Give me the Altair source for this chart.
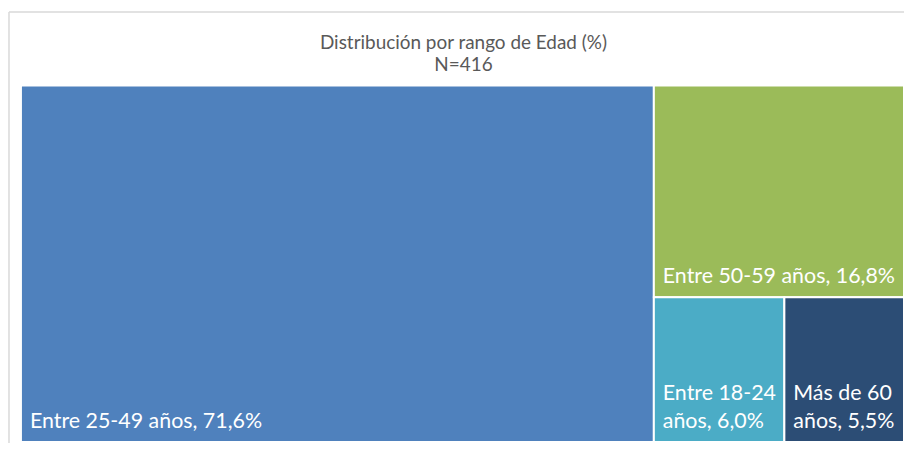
import altair as alt
import pandas as pd

# ---- data ----
categories = ["Entre 25-49 años", "Entre 50-59 años", "Entre 18-24 años", "Más de 60 años"]
labels = ["Entre 25-49 años, 71,6%", "Entre 50-59 años, 16,8%", "Entre 18-24\naños, 6,0%", "Más de 60\naños, 5,5%"]
values = [71.6, 16.8, 6.0, 5.5]
colors = ["#4F81BD", "#9BBB59", "#4BACC6", "#2C4D75"]
title_text = "Distribución por rango de Edad (%)"
subtitle_text = "N=416"

W, H = 887, 358  # plot area size in px


def slice_layout(vals, x0, y0, x1, y1):
    """Simple treemap: largest item takes a slice along the longer side."""
    out = []
    vals = list(vals)
    idx = 0
    while idx < len(vals):
        rest = sum(vals[idx:])
        v = vals[idx]
        if idx == len(vals) - 1:
            out.append((x0, y0, x1, y1))
            break
        frac = v / rest
        pw = (x1 - x0) * W / 100
        ph = (y1 - y0) * H / 100
        if pw >= ph:
            xm = x0 + (x1 - x0) * frac
            out.append((x0, y0, xm, y1))
            x0 = xm
        else:
            ym = y0 + (y1 - y0) * frac
            out.append((x0, y0, x1, ym))
            y0 = ym
        idx += 1
    return out


rects = slice_layout(values, 0, 0, 100, 100)
df = pd.DataFrame({
    "cat": categories,
    "label": labels,
    "first": ["\n".join(l.split("\n")[:-1]) for l in labels],
    "last": [l.split("\n")[-1] for l in labels],
    "value": values,
    "x0": [r[0] for r in rects],
    "y0": [r[1] for r in rects],
    "x1": [r[2] for r in rects],
    "y1": [r[3] for r in rects],
})

xs = alt.Scale(domain=[0, 100], nice=False, zero=False)
ys = alt.Scale(domain=[0, 100], nice=False, zero=False, reverse=True)

base = alt.Chart(df)

rect = base.mark_rect(stroke="white", strokeWidth=2).encode(
    x=alt.X("x0:Q", scale=xs, axis=None),
    x2="x1:Q",
    y=alt.Y("y0:Q", scale=ys, axis=None),
    y2="y1:Q",
    color=alt.Color("cat:N", scale=alt.Scale(domain=categories, range=colors), legend=None),
    tooltip=["cat:N", "value:Q"],
)

LINE_H = 28
text_last = base.mark_text(
    align="left", baseline="alphabetic", dx=9, dy=-14, color="white",
    font="Lato", fontSize=21.5,
).encode(
    x=alt.X("x0:Q", scale=xs),
    y=alt.Y("y1:Q", scale=ys),
    text="last:N",
)
text_first = base.mark_text(
    align="left", baseline="alphabetic", dx=9, dy=-14 - LINE_H, color="white",
    font="Lato", fontSize=21.5,
).encode(
    x=alt.X("x0:Q", scale=xs),
    y=alt.Y("y1:Q", scale=ys),
    text="first:N",
)

one = pd.DataFrame({"k": [0]})
title1 = alt.Chart(one).mark_text(
    align="center", baseline="alphabetic", font="Lato", fontSize=19, color="#595959"
).encode(x=alt.value(W / 2 + 1), y=alt.value(-37), text=alt.value(title_text))
title2 = alt.Chart(one).mark_text(
    align="center", baseline="alphabetic", font="Lato", fontSize=19, color="#595959"
).encode(x=alt.value(W / 2 + 1), y=alt.value(-15), text=alt.value(subtitle_text))

frame_top = alt.Chart(one).mark_rule(color="#D9D9D9", strokeWidth=1.5).encode(
    x=alt.value(-12), x2=alt.value(900), y=alt.value(-74)
)
frame_left = alt.Chart(one).mark_rule(color="#D9D9D9", strokeWidth=1.5).encode(
    x=alt.value(-12), y=alt.value(-74), y2=alt.value(370)
)

chart = alt.layer(frame_top, frame_left, rect, text_last, text_first, title1, title2).properties(
    width=W, height=H,
    padding={"left": 13, "top": 77, "right": 0, "bottom": 0},
    autosize=alt.AutoSizeParams(type="none"),
).configure_view(stroke=None)

chart.save("out.html", embed_options={"renderer": "svg", "actions": False})
